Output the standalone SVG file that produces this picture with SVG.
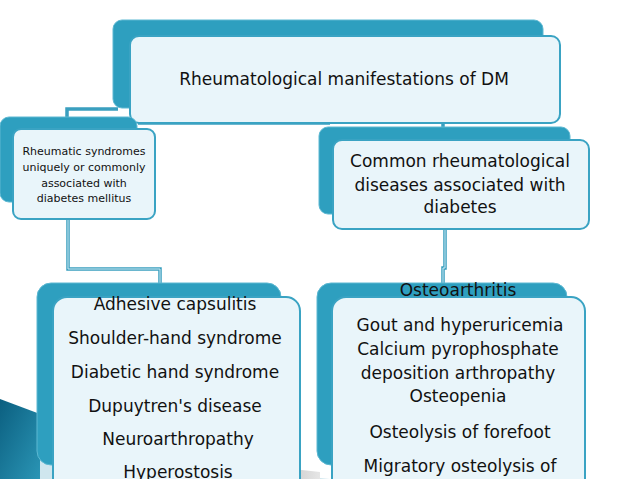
<svg xmlns="http://www.w3.org/2000/svg" width="638" height="479" viewBox="0 0 638 479">
<defs>
<linearGradient id="deco" x1="0" y1="0" x2="1" y2="1">
<stop offset="0" stop-color="#0b5f80"/>
<stop offset="1" stop-color="#2a95b5"/>
</linearGradient>
<linearGradient id="grey" x1="0" y1="0" x2="1" y2="0">
<stop offset="0" stop-color="#d8e8ee"/>
<stop offset="0.6" stop-color="#c8c8c8"/>
<stop offset="1" stop-color="#e6e6e6"/>
</linearGradient>
</defs>
<style>
.back{fill:#2e9fbf;stroke:#5cb8d2;stroke-width:1}
.front{fill:#e9f5fa;stroke:#3aa3c3;stroke-width:2}
.conn{fill:none;stroke:#3a9fbf;stroke-width:3.5}
.connIn{fill:none;stroke:#cfeaf3;stroke-width:1}
text{font-family:"DejaVu Sans","Verdana",sans-serif;fill:#111;text-anchor:middle}
.t1{font-size:17px}
.t2{font-size:11px}
.t3{font-size:17px}
.t4{font-size:17px}
</style>
<rect width="638" height="479" fill="#ffffff"/>
<polygon points="0,399 40,414 40,479 0,479" fill="url(#deco)"/>
<polygon points="40,450 330,479 40,479" fill="#cfe6ee"/>
<polygon points="230,462 320,472 320,479 230,479" fill="url(#grey)"/>

<g id="connectors">
<path class="conn" d="M67,117 V109 H118"/>
<path class="conn" d="M138,123 H330"/>
<path class="conn" d="M443,113 V128"/>
<path class="conn" d="M68,220 V269 H160 V284"/>
<path class="connIn" d="M68,220 V269 H160 V284"/>
<path class="conn" d="M445,230 V268 H443 V284"/>
<path class="connIn" d="M445,230 V268 H443 V284"/>
</g>

<g id="node-top">
<rect class="back" x="113" y="20" width="430" height="88" rx="9"/>
<rect class="front" x="130" y="36" width="430" height="87" rx="9"/>
<text class="t1" x="344" y="85">Rheumatological manifestations of DM</text>
</g>

<g id="node-left">
<rect class="back" x="0" y="117" width="137" height="85" rx="9"/>
<rect class="front" x="13" y="129" width="142" height="90" rx="8"/>
<text class="t2" x="84" y="155">Rheumatic syndromes</text>
<text class="t2" x="84" y="171">uniquely or commonly</text>
<text class="t2" x="84" y="187">associated with</text>
<text class="t2" x="84" y="202">diabetes mellitus</text>
</g>

<g id="node-right">
<rect class="back" x="319" y="127" width="251" height="87" rx="9"/>
<rect class="front" x="333" y="140" width="256" height="89" rx="9"/>
<text class="t3" x="460" y="167">Common rheumatological</text>
<text class="t3" x="460" y="191">diseases associated with</text>
<text class="t3" x="460" y="213">diabetes</text>
</g>

<g id="node-bottom-left">
<rect class="back" x="37" y="283" width="244" height="182" rx="14"/>
<rect class="front" x="53" y="297" width="247" height="200" rx="14"/>
<text class="t4" x="175" y="310">Adhesive capsulitis</text>
<text class="t4" x="175" y="344">Shoulder-hand syndrome</text>
<text class="t4" x="175" y="378">Diabetic hand syndrome</text>
<text class="t4" x="175" y="412">Dupuytren's disease</text>
<text class="t4" x="178" y="445">Neuroarthropathy</text>
<text class="t4" x="178" y="478">Hyperostosis</text>
</g>

<g id="node-bottom-right">
<rect class="back" x="317" y="283" width="250" height="182" rx="14"/>
<rect class="front" x="332" y="297" width="253" height="200" rx="14"/>
<text class="t4" x="458" y="296">Osteoarthritis</text>
<text class="t4" x="460" y="331">Gout and hyperuricemia</text>
<text class="t4" x="458" y="355">Calcium pyrophosphate</text>
<text class="t4" x="458" y="379">deposition arthropathy</text>
<text class="t4" x="458" y="402">Osteopenia</text>
<text class="t4" x="460" y="438">Osteolysis of forefoot</text>
<text class="t4" x="460" y="472">Migratory osteolysis of</text>
</g>
</svg>
